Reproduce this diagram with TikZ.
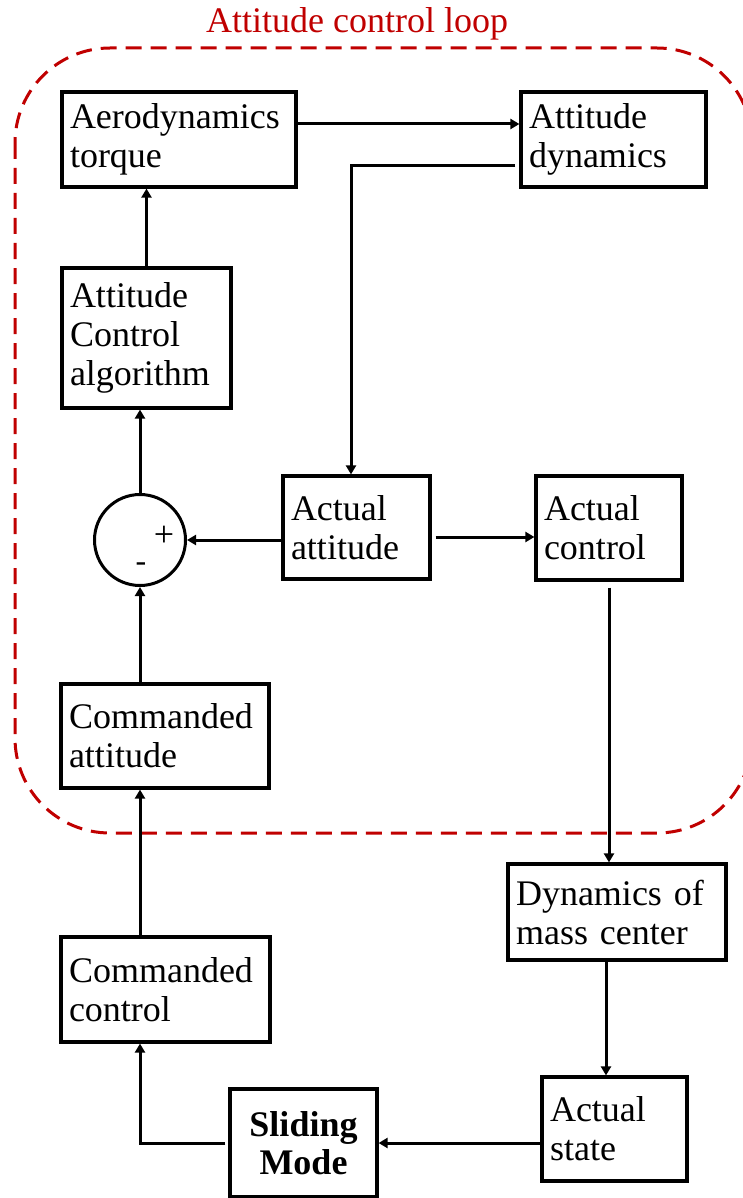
\documentclass[tikz,border=0pt]{standalone}
\usepackage{fontspec}
\setmainfont{Liberation Serif}
\usetikzlibrary{arrows.meta}
\definecolor{loopred}{HTML}{C00000}
\tikzset{blockbox/.style={draw=black,line width=3.2pt,align=left,inner sep=8pt,font=\fontsize{36}{39}\selectfont}}
\tikzset{sigline/.style={line width=3pt}}

\begin{document}
\begin{tikzpicture}[x=1pt,y=-1pt,>={Triangle[length=9pt,width=10pt]}]
\useasboundingbox (0,0) rectangle (743,1198);
% \draw[help lines] (0,0) grid (743,1198);
\draw[loopred,line width=3pt,dash pattern=on 16pt off 9pt,rounded corners=95pt] (15,48) rectangle (752,833);
\node (title) [text=loopred,font=\fontsize{36}{39}\selectfont,anchor=base] at (357,33) {Attitude control loop};
%
\node (aero) [blockbox,text width=218pt,minimum height=95pt] at (179,139.5) {Aerodynamics\\torque};
\node (attdyn) [blockbox,text width=169pt,minimum height=95pt] at (613.5,139.5) {Attitude\\dynamics};
\node (aca) [blockbox,text width=153pt,minimum height=140pt] at (146.5,338) {Attitude\\Control\\algorithm};
\node (sum) [circle,draw=black,line width=3pt,minimum size=91pt,inner sep=0pt] at (140,540) {};
\node (plus) [font=\fontsize{36}{39}\selectfont] at (164,536) {+};
\node (minus) [font=\fontsize{32}{39}\selectfont] at (141,567) {-};
\node (actatt) [blockbox,text width=131pt,minimum height=103pt] at (356.5,527.5) {Actual\\attitude};
\node (actctrl) [blockbox,text width=130pt,minimum height=104pt] at (609,528) {Actual\\control};
\node (cmdatt) [blockbox,text width=192pt,minimum height=104pt] at (165,736) {Commanded\\attitude};
%
\node (cmdctrl) [blockbox,text width=193pt,minimum height=105pt] at (165.5,989.5) {Commanded\\control};
\node (dmc) [blockbox,text width=202pt,minimum height=96pt] at (617,912) {Dynamics of\\mass center};
\node (actstate) [blockbox,text width=129pt,minimum height=104pt] at (614.5,1129) {Actual\\state};
\node (sliding) [blockbox,align=center,text width=131pt,minimum height=108pt,font=\fontsize{36}{38}\selectfont\bfseries] at (303.5,1143) {Sliding\\Mode};
%
\draw[sigline,->] ([yshift=15.5pt]aero.east) -- ([yshift=15.5pt]attdyn.west);
\draw[sigline,->,shorten <=4pt] ([yshift=-26pt]attdyn.west) -| ([xshift=-5.5pt]actatt.north);
\draw[sigline,->] (aca.north) -- (aca.north |- aero.south);
\draw[sigline,->] (sum.north) -- (sum.north |- aca.south);
\draw[sigline,->] (actatt.west |- sum.east) -- (sum.east);
\draw[sigline,->,shorten <=4pt] ([yshift=-9.5pt]actatt.east) -- ([yshift=-9pt]actctrl.west);
\draw[sigline,->,shorten <=6pt] (actctrl.south) -- (actctrl.south |- dmc.north);
\draw[sigline,->] (sum.south |- cmdatt.north) -- (sum.south);
\draw[sigline,->] (sum.south |- cmdctrl.north) -- (sum.south |- cmdatt.south);
\draw[sigline,->] ([xshift=-11pt]dmc.south) -- ([xshift=-11pt]dmc.south |- actstate.north);
\draw[sigline,->] (actstate.west |- sliding.east) -- (sliding.east);
\draw[sigline,->,shorten <=3pt] (sliding.west) -| (sum.south |- cmdctrl.south);
\end{tikzpicture}
\end{document}
